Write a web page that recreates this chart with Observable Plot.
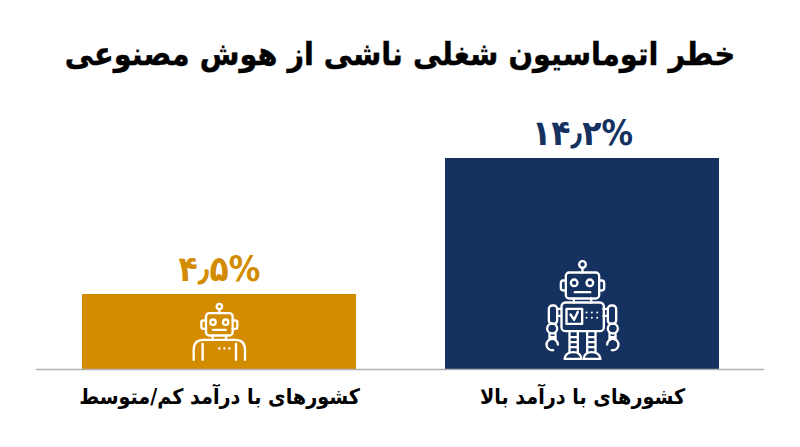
<!DOCTYPE html>
<html lang="fa">
<head>
<meta charset="utf-8">
<script src="https://cdn.jsdelivr.net/npm/d3@7"></script>
<script src="https://cdn.jsdelivr.net/npm/@observablehq/plot@0.6"></script>
<style>
html,body{margin:0;padding:0;background:#fff;width:800px;height:447px;overflow:hidden}
#title{height:100px;box-sizing:border-box;padding-top:31px;text-align:center;direction:rtl;color:#000;
 font:bold 32px/46px "DejaVu Sans Condensed","DejaVu Sans",sans-serif;font-stretch:condensed;-webkit-text-stroke:.4px #000}
svg{display:block}
</style>
</head>
<body>
<div id="title">خطر اتوماسیون شغلی ناشی از هوش مصنوعی</div>
<div id="chart"></div>
<script>
const categories = ["کشورهای با درآمد کم/متوسط", "کشورهای با درآمد بالا"];
const values = [4.5, 14.2];
const valueLabels = ["۴٫۵%", "۱۴٫۲%"];
const colors = ["#D38B00", "#14315F"];

const svgUri = (w, h, body) => "data:image/svg+xml," + encodeURIComponent(
  `<svg xmlns="http://www.w3.org/2000/svg" viewBox="0 0 ${w} ${h}" fill="none" stroke="#fff" stroke-width="7" stroke-linecap="round" stroke-linejoin="round">${body}</svg>`);

const arm = `<path d="M170 205H183M170 226H183"/><rect x="145" y="195" width="25" height="55" rx="10"/><circle cx="155" cy="264" r="15"/><path d="M147 279V298M165 279V298M147 290H165"/><path d="M172 312A17 17 0 1 0 158 329"/>`;
const leg = `<path d="M207 272V335M232 272V335M207 290H232M207 305H232M207 320H232"/><path d="M192 355Q195 335 219 335Q240 335 243 355Z"/>`;
const fullRobot = svgUri(480, 390, `
<circle cx="246" cy="72" r="10"/><path d="M246 82V96"/>
<rect x="196" y="96" width="100" height="78" rx="10"/>
<path d="M196 120H188Q181 120 181 128V142Q181 150 188 150H196M296 120H304Q311 120 311 128V142Q311 150 304 150H296"/>
<circle cx="221" cy="127" r="10"/><circle cx="268" cy="127" r="10"/><path d="M223 155H269"/>
<path d="M220 174V186M272 174V186"/>
<rect x="183" y="186" width="127" height="86" rx="12"/>
<rect x="198" y="205" width="47" height="45"/><path d="M210 222L221 238L232 214"/>
<g stroke-width="6"><path d="M258 216h.1M274 216h.1M290 216h.1M258 232h.1M274 232h.1M290 232h.1"/></g>
${arm}<g transform="translate(492 0) scale(-1 1)">${arm}</g>
${leg}<g transform="translate(492 0) scale(-1 1)">${leg}</g>`);
const bustRobot = svgUri(420, 405, `
<circle cx="205" cy="198" r="8"/><path d="M205 206V218"/>
<rect x="165" y="218" width="80" height="67" rx="10"/>
<path d="M165 240H157Q151 240 151 246V259Q151 265 157 265H165M245 240H253Q259 240 259 246V259Q259 265 253 265H245"/>
<circle cx="186" cy="245" r="8"/><circle cx="224" cy="245" r="8"/><path d="M186 268H224"/>
<path d="M185 285V298M225 285V298"/>
<path d="M128 358V328Q128 298 158 298H252Q282 298 282 328V358"/>
<path d="M155 310V358M255 310V358"/>
<path d="M205 324h.1M220 324h.1M235 324h.1"/>`);

const table = categories.map((category, i) => ({
  category, value: values[i], label: valueLabels[i], color: colors[i]
}));

const plot = Plot.plot({
  width: 800, height: 347,
  marginTop: 0, marginBottom: 78, marginLeft: 36, marginRight: 36,
  style: {fontFamily: "'DejaVu Sans Condensed', 'DejaVu Sans', sans-serif", fontStretch: "condensed", background: "#fff", color: "#000"},
  x: {domain: categories, range: [81.5, 719.5], paddingInner: 0.245, paddingOuter: 0, label: null, axis: null},
  y: {type: "pow", exponent: 0.9, domain: [0, 14.2], range: [269, 58], axis: null},
  marks: [
    Plot.barY(table, {x: "category", y: "value", fill: "color"}),
    Plot.ruleY([0], {stroke: "#b0b0b0", strokeWidth: 1.5}),
    Plot.text(table, {x: "category", y: "value", text: "label", fill: "color",
      fontSize: 35, fontWeight: "bold", dy: -25}),
    Plot.image([table[1]], {x: "category", y: 0, src: () => fullRobot, width: 160, height: 130, dx: -2, dy: -64}),
    Plot.image([table[0]], {x: "category", y: 0, src: () => bustRobot, width: 140, height: 135, dx: 1.5, dy: -61.5}),
    Plot.axisX({anchor: "bottom", tickSize: 0, tickPadding: 19, fontSize: 21.3, fontWeight: "bold", label: null, tickFormat: d => d, fill: "#000"})
  ]
});
document.getElementById("chart").append(plot);
</script>
</body>
</html>
